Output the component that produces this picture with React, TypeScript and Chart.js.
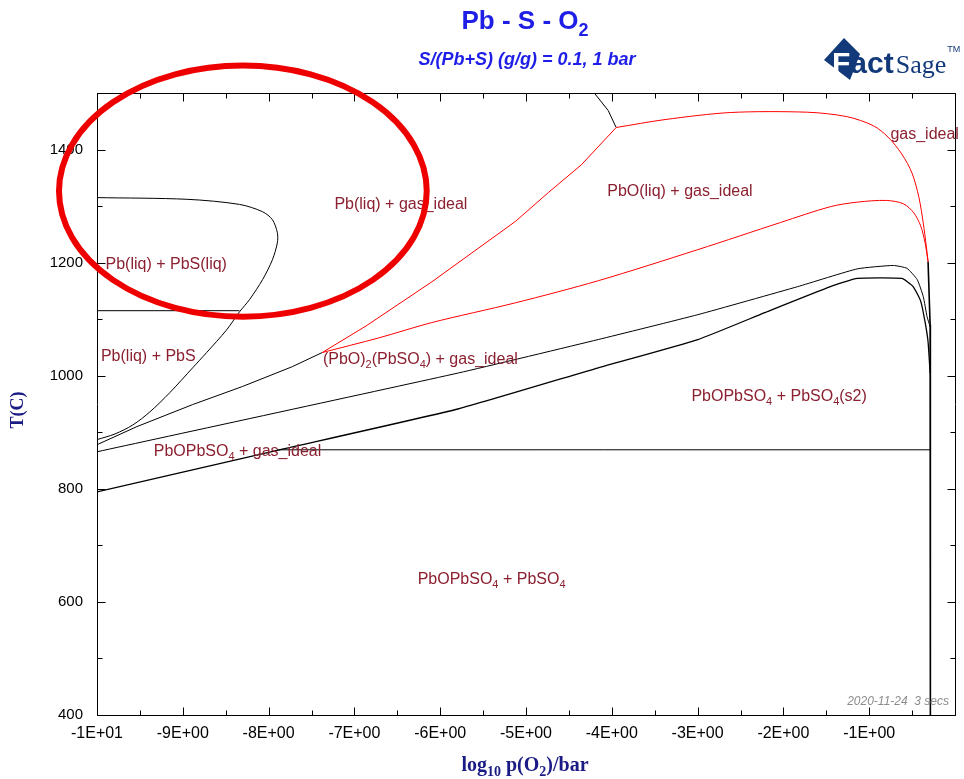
import React, { useEffect, useRef } from 'react';
import { Chart, registerables } from 'chart.js';

Chart.register(...registerables);

// ---------- axes ----------
const X_MIN = -10;
const X_MAX = 0;
const T_MIN = 400;
const T_MAX = 1500;
const xTickValues = [-10, -9, -8, -7, -6, -5, -4, -3, -2, -1];
const xTickLabels = ['-1E+01', '-9E+00', '-8E+00', '-7E+00', '-6E+00', '-5E+00', '-4E+00', '-3E+00', '-2E+00', '-1E+00'];
const yTickValues = [400, 600, 800, 1000, 1200, 1400];

// ---------- phase boundaries: [log10 p(O2), T(C)] ----------
const pbsLiquidBoundary: number[][] = [
  [-10, 1315], [-8.95, 1312], [-8.34, 1303], [-8.07, 1290], [-7.956, 1276], [-7.898, 1253],
  [-7.898, 1235], [-7.956, 1205], [-8.07, 1170], [-8.223, 1134.5], [-8.339, 1113], [-8.49, 1081],
  [-8.722, 1041], [-8.885, 1014], [-9.152, 970], [-9.384, 936], [-9.582, 913], [-9.791, 897], [-10, 887],
];
const pbsEutecticLine: number[][] = [[-10, 1115], [-8.34, 1115]];
const pbLiqUpperBoundary: number[][] = [
  [-10, 878], [-9.535, 910], [-8.885, 949], [-8.304, 981], [-7.724, 1016], [-7.375, 1041],
];
const pboGasBoundaryRed: number[][] = [
  [-7.375, 1041], [-6.864, 1088], [-6.098, 1166], [-5.122, 1273], [-4.739, 1324], [-4.355, 1373], [-3.949, 1439],
];
const pbTopBoundary: number[][] = [[-4.204, 1500], [-4.042, 1469], [-3.949, 1439]];
const gasIdealBoundaryRed: number[][] = [
  [-3.949, 1439], [-3.38, 1453], [-2.613, 1465.5], [-1.719, 1466], [-1.254, 1458], [-0.95, 1442],
  [-0.78, 1422], [-0.62, 1392], [-0.5, 1358], [-0.42, 1315], [-0.37, 1270], [-0.335, 1230], [-0.314, 1202],
];
const pboLiqLowerBoundaryRed: number[][] = [
  [-7.375, 1041], [-6.713, 1067], [-6.098, 1094], [-5.122, 1129], [-4.158, 1168], [-2.997, 1223],
  [-2.033, 1271], [-1.452, 1299], [-1.138, 1307], [-0.8, 1310], [-0.6, 1304], [-0.48, 1288],
  [-0.4, 1265], [-0.35, 1236], [-0.314, 1202],
];
const pbo2SulfateLower: number[][] = [
  [-10, 865.5], [-5.784, 1005], [-4.158, 1064], [-2.997, 1108], [-1.835, 1157.5], [-1.138, 1189],
  [-0.72, 1195], [-0.56, 1190], [-0.44, 1170], [-0.37, 1140], [-0.325, 1104], [-0.29, 1087],
];
const pbopbso4GasLower: number[][] = [
  [-10, 794.7], [-7.9, 868], [-5.784, 941.6], [-4.158, 1014], [-2.997, 1064], [-2.218, 1111.5],
  [-1.452, 1157.5], [-1.138, 1172], [-0.62, 1172], [-0.49, 1158], [-0.4, 1132], [-0.35, 1096],
  [-0.314, 1060], [-0.29, 1005],
];
const sulfateTransitionLine: number[][] = [[-7.9, 869], [-0.288, 869]];
const verticalBoundary: number[][] = [[-0.314, 1202], [-0.29, 1090], [-0.287, 400]];

// ---------- region labels ----------
const regionLabels = [
  'Pb(liq) + gas_ideal',
  'PbO(liq) + gas_ideal',
  'gas_ideal',
  'Pb(liq) + PbS(liq)',
  'Pb(liq) + PbS',
  '(PbO){2}(PbSO{4}) + gas_ideal',
  'PbOPbSO{4} + PbSO{4}(s2)',
  'PbOPbSO{4} + gas_ideal',
  'PbOPbSO{4} + PbSO{4}',
];
const regionLabelX = [-6.458, -3.206, -0.354, -9.193, -9.402, -6.231, -2.05, -8.362, -5.401];
const regionLabelT = [1302.7, 1325.7, 1426.5, 1196.5, 1033.6, 1028.3, 962.8, 865.5, 638.9];

// highlight ellipse (center and radii in data units)
const ellipseCenter = [-8.3, 1326.5];
const ellipseRadii = [2.143, 222];

const RED = '#ff0000';
const BLACK = '#000000';
const LABEL_COLOR = '#8b2030';
const TITLE_BLUE = '#1e1ee6';
const AXIS_TITLE_COLOR = '#1b1b85';

type Seg = { t: string; sub: boolean };
function parseRich(s: string): Seg[] {
  const parts: Seg[] = [];
  const re = /\{([^}]*)\}/g;
  let last = 0;
  let m: RegExpExecArray | null;
  while ((m = re.exec(s))) {
    if (m.index > last) parts.push({ t: s.slice(last, m.index), sub: false });
    parts.push({ t: m[1], sub: true });
    last = re.lastIndex;
  }
  if (last < s.length) parts.push({ t: s.slice(last), sub: false });
  return parts;
}

function drawRich(
  ctx: CanvasRenderingContext2D,
  s: string,
  x: number,
  y: number,
  o: { size: number; family: string; weight?: string; style?: string; color: string; align: 'left' | 'center' | 'right' }
) {
  const parts = parseRich(s);
  const font = (sub: boolean) =>
    `${o.style || 'normal'} ${o.weight || 'normal'} ${sub ? Math.round(o.size * 0.68) : o.size}px ${o.family}`;
  let total = 0;
  const widths = parts.map((p) => {
    ctx.font = font(p.sub);
    const w = ctx.measureText(p.t).width;
    total += w;
    return w;
  });
  let cx = o.align === 'left' ? x : o.align === 'right' ? x - total : x - total / 2;
  ctx.fillStyle = o.color;
  ctx.textAlign = 'left';
  ctx.textBaseline = 'middle';
  parts.forEach((p, i) => {
    ctx.font = font(p.sub);
    ctx.fillText(p.t, cx, p.sub ? y + o.size * 0.33 : y);
    cx += widths[i];
  });
}

const decorPlugin = {
  id: 'decor',
  afterDatasetsDraw(chart: any) {
    const { ctx, chartArea: a, scales } = chart;
    const xs = scales.x;
    const ys = scales.y;
    ctx.save();
    // frame
    ctx.strokeStyle = '#000';
    ctx.lineWidth = 1;
    const L = Math.round(a.left) + 0.5;
    const R = Math.round(a.right) + 0.5;
    const Tp = Math.round(a.top) + 0.5;
    const B = Math.round(a.bottom) + 0.5;
    ctx.beginPath();
    ctx.rect(L, Tp, R - L, B - Tp);
    // x ticks (inward, top and bottom)
    for (let v = X_MIN; v <= X_MAX + 1e-9; v += 0.5) {
      const px = Math.round(xs.getPixelForValue(v)) + 0.5;
      const len = Math.abs(v - Math.round(v)) < 1e-6 ? 8 : 5;
      ctx.moveTo(px, B);
      ctx.lineTo(px, B - len);
      ctx.moveTo(px, Tp);
      ctx.lineTo(px, Tp + len);
    }
    // y ticks (inward, left and right)
    for (let t = T_MIN; t <= T_MAX; t += 100) {
      const py = Math.round(ys.getPixelForValue(t)) + 0.5;
      const len = t % 200 === 0 ? 8 : 5;
      ctx.moveTo(L, py);
      ctx.lineTo(L + len, py);
      ctx.moveTo(R, py);
      ctx.lineTo(R - len, py);
    }
    ctx.stroke();

    // region labels
    regionLabels.forEach((lab, i) => {
      drawRich(ctx, lab, xs.getPixelForValue(regionLabelX[i]), ys.getPixelForValue(regionLabelT[i]), {
        size: 16,
        family: '"Liberation Sans", Arial, sans-serif',
        color: LABEL_COLOR,
        align: 'center',
      });
    });

    // date stamp
    ctx.font = 'italic 12px "Liberation Sans", Arial, sans-serif';
    ctx.fillStyle = '#8c8c8c';
    ctx.textAlign = 'right';
    ctx.textBaseline = 'alphabetic';
    ctx.fillText('2020-11-24  3 secs', a.right - 6, a.bottom - 10);
    ctx.restore();
  },
  afterDraw(chart: any) {
    const { ctx, chartArea: a, scales, width } = chart;
    const xs = scales.x;
    const ys = scales.y;
    ctx.save();
    const midX = (a.left + a.right) / 2 - 1;
    // title
    drawRich(ctx, 'Pb - S - O{2}', midX, 22, {
      size: 26,
      weight: 'bold',
      family: '"Liberation Sans", Arial, sans-serif',
      color: TITLE_BLUE,
      align: 'center',
    });
    drawRich(ctx, 'S/(Pb+S) (g/g) = 0.1, 1 bar', midX + 2, 60, {
      size: 18,
      weight: 'bold',
      style: 'italic',
      family: '"Liberation Sans", Arial, sans-serif',
      color: TITLE_BLUE,
      align: 'center',
    });
    // axis titles
    drawRich(ctx, 'log{10} p(O{2})/bar', midX, 766, {
      size: 20,
      weight: 'bold',
      family: '"Liberation Serif", "Times New Roman", serif',
      color: AXIS_TITLE_COLOR,
      align: 'center',
    });
    ctx.save();
    ctx.translate(18, (a.top + a.bottom) / 2 + 6);
    ctx.rotate(-Math.PI / 2);
    drawRich(ctx, 'T(C)', 0, 0, {
      size: 18,
      weight: 'bold',
      family: '"Liberation Serif", "Times New Roman", serif',
      color: AXIS_TITLE_COLOR,
      align: 'center',
    });
    ctx.restore();

    // FactSage logo (text)
    const lx = width - 140;
    ctx.fillStyle = '#12397a';
    ctx.beginPath();
    ctx.moveTo(lx, 60);
    ctx.lineTo(lx + 20, 38);
    ctx.lineTo(lx + 36, 54);
    ctx.lineTo(lx + 26, 80);
    ctx.closePath();
    ctx.fill();
    ctx.textAlign = 'left';
    ctx.textBaseline = 'alphabetic';
    ctx.font = 'bold 30px "Liberation Sans", Arial, sans-serif';
    ctx.fillStyle = '#ffffff';
    ctx.fillText('F', lx + 8, 73);
    ctx.fillStyle = '#12397a';
    const fw = ctx.measureText('F').width;
    ctx.fillText('act', lx + 8 + fw, 73);
    const aw = ctx.measureText('act').width;
    ctx.font = '26px "Liberation Serif", serif';
    ctx.fillText('Sage', lx + 10 + fw + aw, 73);
    const sw = ctx.measureText('Sage').width;
    ctx.font = '9px "Liberation Sans", Arial, sans-serif';
    ctx.fillText('TM', lx + 11 + fw + aw + sw, 52);

    // highlight ellipse
    const ex = xs.getPixelForValue(ellipseCenter[0]);
    const ey = ys.getPixelForValue(ellipseCenter[1]);
    const rx = Math.abs(xs.getPixelForValue(ellipseCenter[0] + ellipseRadii[0]) - ex);
    const ry = Math.abs(ys.getPixelForValue(ellipseCenter[1] + ellipseRadii[1]) - ey);
    ctx.strokeStyle = '#ee0000';
    ctx.lineWidth = 6;
    ctx.beginPath();
    ctx.ellipse(ex, ey, rx, ry, 0, 0, Math.PI * 2);
    ctx.stroke();
    ctx.restore();
  },
};

function toXY(arr: number[][]) {
  return arr.map(([x, y]) => ({ x, y }));
}

function line(data: number[][], color: string, width = 1, tension = 0.3) {
  return {
    data: toXY(data),
    showLine: true,
    borderColor: color,
    backgroundColor: color,
    borderWidth: width,
    pointRadius: 0,
    pointHoverRadius: 0,
    tension,
    fill: false,
  };
}

export default function App() {
  const ref = useRef<HTMLCanvasElement | null>(null);
  useEffect(() => {
    if (!ref.current) return;
    const chart = new Chart(ref.current, {
      type: 'scatter',
      data: {
        datasets: [
          // red first so they are drawn on top
          line(gasIdealBoundaryRed, RED, 1, 0.3),
          line(pboGasBoundaryRed, RED, 1, 0),
          line(pboLiqLowerBoundaryRed, RED, 1, 0.3),
          line(pbsLiquidBoundary, BLACK, 1, 0.3),
          line(pbsEutecticLine, BLACK, 1, 0),
          line(pbLiqUpperBoundary, BLACK, 1, 0),
          line(pbTopBoundary, BLACK, 1, 0),
          line(pbo2SulfateLower, BLACK, 1, 0.15),
          line(pbopbso4GasLower, BLACK, 1.3, 0.15),
          line(sulfateTransitionLine, BLACK, 1, 0),
          line(verticalBoundary, BLACK, 1.6, 0),
        ] as any,
      },
      options: {
        responsive: false,
        animation: false,
        events: [],
        layout: { padding: { top: 93, right: 7, left: 0, bottom: 0 } },
        plugins: { legend: { display: false }, tooltip: { enabled: false }, title: { display: false } },
        scales: {
          x: {
            type: 'linear',
            min: X_MIN,
            max: X_MAX,
            grid: { display: false, drawTicks: false },
            border: { display: false },
            ticks: {
              stepSize: 1,
              autoSkip: false,
              maxRotation: 0,
              minRotation: 0,
              padding: 9,
              color: '#000',
              font: { family: '"Liberation Sans", Arial, sans-serif', size: 16 },
              callback: (v: any) => {
                const i = xTickValues.indexOf(Math.round(Number(v) * 1000) / 1000);
                return i >= 0 ? xTickLabels[i] : '';
              },
            },
            afterFit: (s: any) => {
              s.height = 64;
            },
          },
          y: {
            type: 'linear',
            min: T_MIN,
            max: T_MAX,
            grid: { display: false, drawTicks: false },
            border: { display: false },
            ticks: {
              stepSize: 200,
              includeBounds: false,
              padding: 14,
              color: '#000',
              font: { family: '"Liberation Sans", Arial, sans-serif', size: 15 },
              callback: (v: any) => (yTickValues.includes(Number(v)) ? String(v) : ''),
            },
            afterFit: (s: any) => {
              s.width = 97;
            },
          },
        },
      },
      plugins: [decorPlugin],
    } as any);
    return () => chart.destroy();
  }, []);
  return (
    <div style={{ position: 'fixed', left: 0, top: 0, width: 964, height: 779, background: '#fff' }}>
      <canvas ref={ref} width={964} height={779} style={{ display: 'block' }} />
    </div>
  );
}
